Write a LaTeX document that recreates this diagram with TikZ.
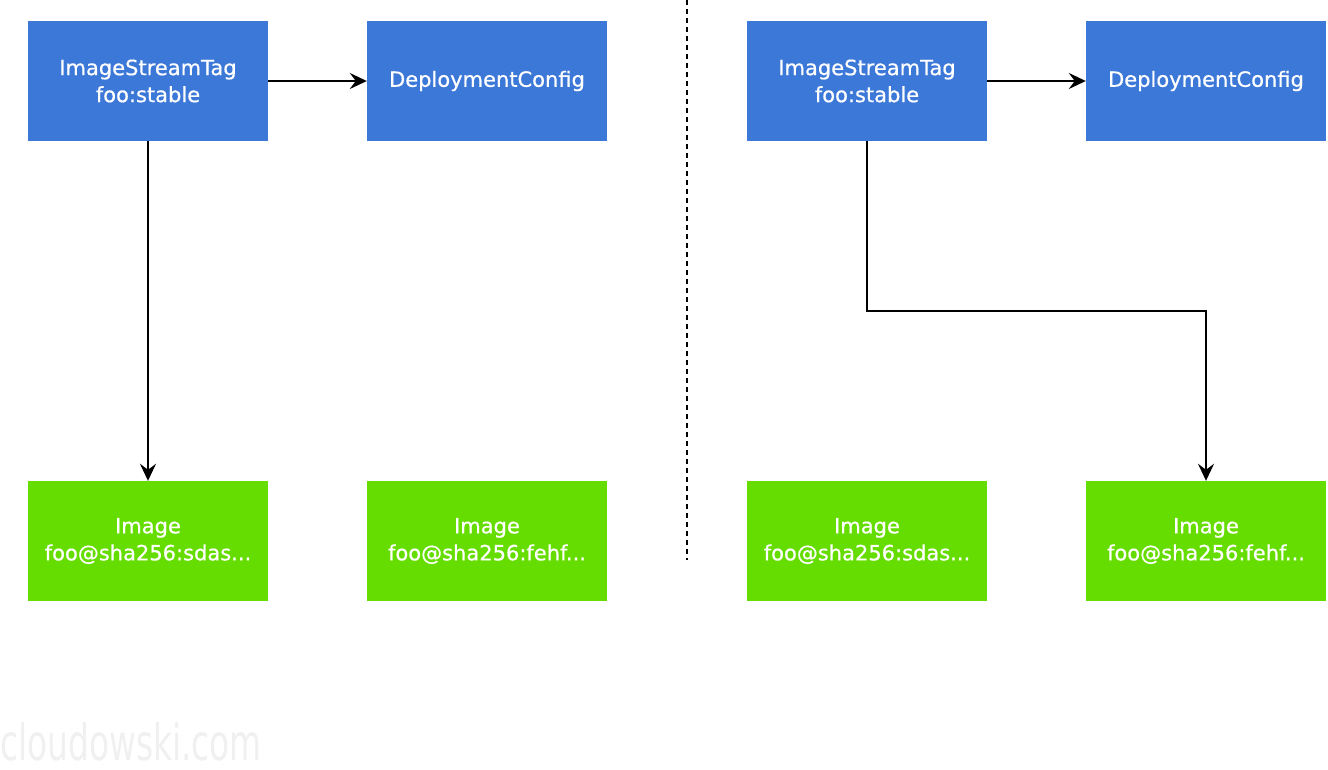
\documentclass[tikz,border=0pt]{standalone}
\usepackage{fontspec}
\setmainfont{DejaVu Sans}
\newfontfamily\boxfont{DejaVu Sans}[FakeBold=0.6]
\newfontfamily\wmfont{DejaVu Sans Condensed}
\usetikzlibrary{positioning, arrows.meta}
\definecolor{tagblue}{HTML}{3C78D8}
\definecolor{imggreen}{HTML}{66DD00}
\definecolor{wmgray}{HTML}{F0F0F0}
\tikzset{x=1pt,y=-1pt,
         tagbox/.style={fill=tagblue,text=white,minimum width=240pt,minimum height=120pt,align=center,inner sep=0pt,font=\fontsize{21}{27}\boxfont},
         imgbox/.style={tagbox,fill=imggreen},
         link/.style={-{Stealth[length=17pt,width=16pt,inset=6pt]},line width=2.2pt}}

\begin{document}
\begin{tikzpicture}
        \useasboundingbox (0,0) rectangle (1328,770);
        \node[tagbox](tag1)at(148,81){ImageStreamTag\\foo:stable};
        \node[tagbox](dc1)at(487,81){DeploymentConfig};
        \node[imgbox](img1)at(148,541){Image\\foo@sha256:sdas...};
        \node[imgbox](img2)at(487,541){Image\\foo@sha256:fehf...};

        \node[tagbox](tag2)at(867,81){ImageStreamTag\\foo:stable};
        \node[tagbox](dc2)at(1206,81){DeploymentConfig};
        \node[imgbox](img3)at(867,541){Image\\foo@sha256:sdas...};
        \node[imgbox](img4)at(1206,541){Image\\foo@sha256:fehf...};

        \coordinate (sepTop) at (687,0);
        \coordinate (sepBot) at (687,560);
        \draw[line width=2.2pt,dash pattern=on 5pt off 4pt](sepTop)--(sepBot);

        \draw[link](tag1)--(dc1);
        \draw[link](tag1)--(img1);
        \draw[link](tag2)--(dc2);
        \draw[link](tag2.south)|-(1036,311)-|(img4.north);

        \node[anchor=south west,inner sep=0pt,text=wmgray,font=\fontsize{50}{50}\wmfont](wm)at(0,761){\scalebox{0.73}[1]{cloudowski.com}};
    \end{tikzpicture}
\end{document}
